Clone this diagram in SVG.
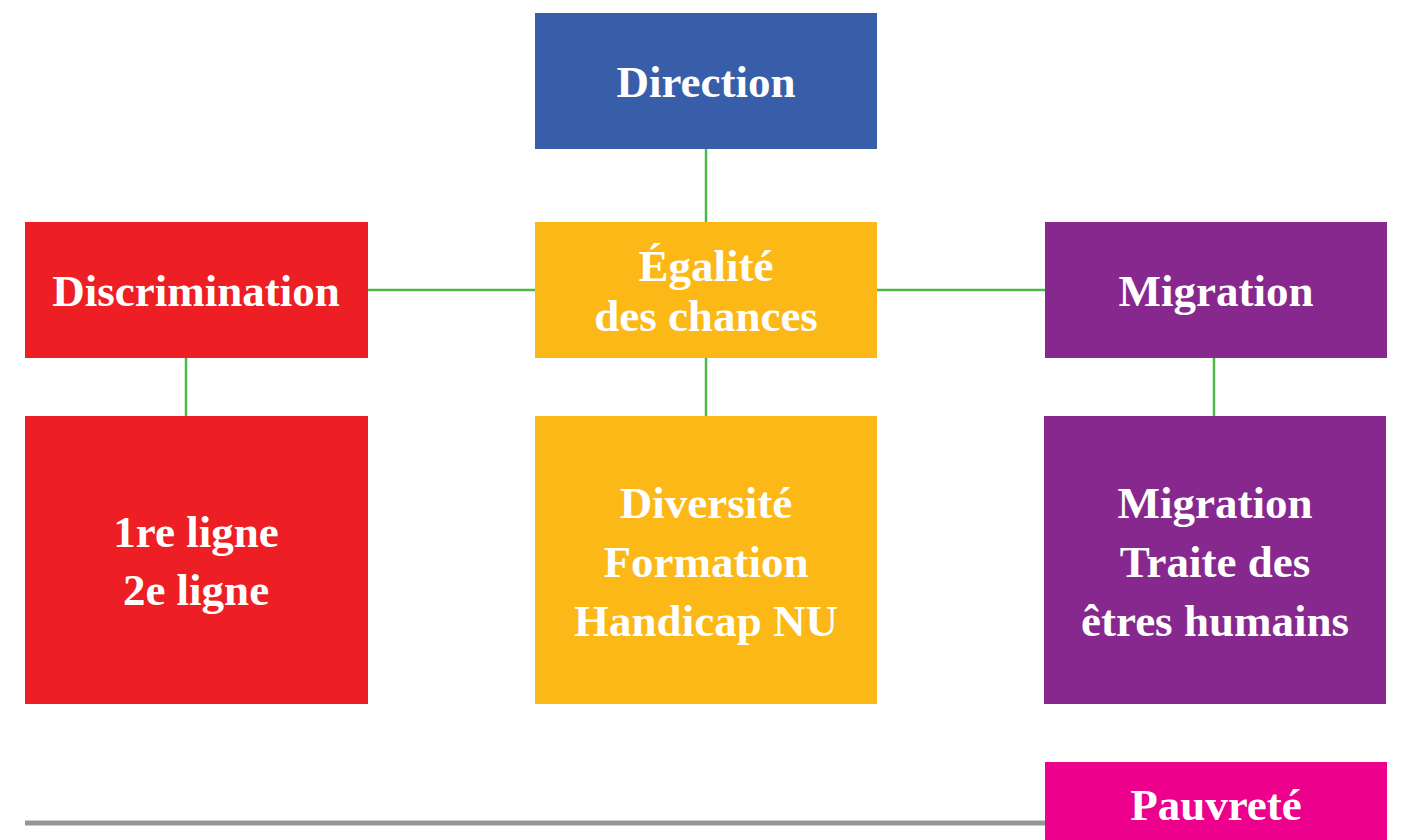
<svg xmlns="http://www.w3.org/2000/svg" width="1401" height="840" viewBox="0 0 1401 840">
  <style>
    .lbl { font-family: "Liberation Serif", "Times New Roman", serif; font-weight: bold; font-size: 45px; fill: #ffffff; text-anchor: middle; }
    .link { stroke: #4db848; stroke-width: 2.5; fill: none; }
    .blue { fill: #385ea9; }
    .red { fill: #ed1f24; }
    .yellow { fill: #fbb817; }
    .purple { fill: #87288e; }
    .pink { fill: #ec008c; }
  </style>
  <rect width="1401" height="840" fill="#ffffff"/>

  <!-- connectors -->
  <g id="connectors">
    <line class="link" x1="706" y1="149" x2="706" y2="222"/>
    <line class="link" x1="368" y1="290" x2="535" y2="290"/>
    <line class="link" x1="877" y1="290" x2="1045" y2="290"/>
    <line class="link" x1="186" y1="358" x2="186" y2="416"/>
    <line class="link" x1="706" y1="358" x2="706" y2="416"/>
    <line class="link" x1="1214" y1="358" x2="1214" y2="416"/>
  </g>

  <!-- baseline rule -->
  <line x1="25" y1="823" x2="1045" y2="823" stroke="#939598" stroke-width="5"/>

  <g id="direction">
    <rect class="blue" x="535" y="13" width="342" height="136"/>
    <text class="lbl" x="706" y="97">Direction</text>
  </g>

  <g id="discrimination">
    <rect class="red" x="25" y="222" width="343" height="136"/>
    <text class="lbl" x="196" y="306">Discrimination</text>
  </g>

  <g id="egalite">
    <rect class="yellow" x="535" y="222" width="342" height="136"/>
    <text class="lbl" x="706" y="281">Égalité</text>
    <text class="lbl" x="706" y="331">des chances</text>
  </g>

  <g id="migration">
    <rect class="purple" x="1045" y="222" width="342" height="136"/>
    <text class="lbl" x="1216" y="306">Migration</text>
  </g>

  <g id="lignes">
    <rect class="red" x="25" y="416" width="343" height="288"/>
    <text class="lbl" x="196" y="547">1re ligne</text>
    <text class="lbl" x="196" y="605">2e ligne</text>
  </g>

  <g id="diversite">
    <rect class="yellow" x="535" y="416" width="342" height="288"/>
    <text class="lbl" x="706" y="518">Diversité</text>
    <text class="lbl" x="706" y="577">Formation</text>
    <text class="lbl" x="706" y="636">Handicap NU</text>
  </g>

  <g id="migration-traite">
    <rect class="purple" x="1044" y="416" width="342" height="288"/>
    <text class="lbl" x="1215" y="518">Migration</text>
    <text class="lbl" x="1215" y="577">Traite des</text>
    <text class="lbl" x="1215" y="636">êtres humains</text>
  </g>

  <g id="pauvrete">
    <rect class="pink" x="1045" y="762" width="342" height="90"/>
    <text class="lbl" x="1216" y="820">Pauvreté</text>
  </g>
</svg>
